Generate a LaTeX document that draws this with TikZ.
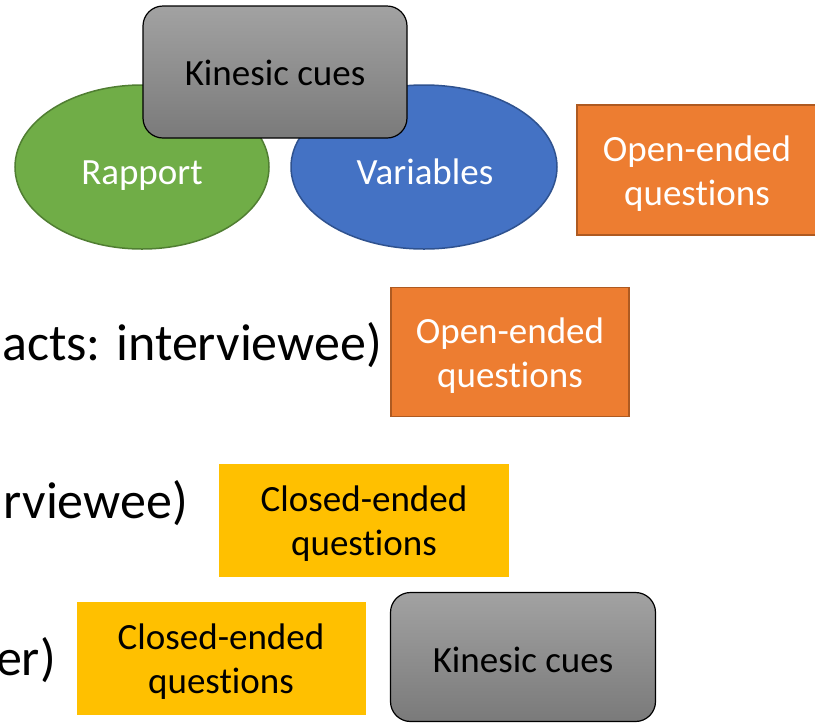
\documentclass[tikz,border=0pt]{standalone}
\usepackage{fontspec}
\setmainfont{Carlito}[Ligatures={NoCommon}]
\usetikzlibrary{shapes.geometric}
\definecolor{rgreen}{HTML}{70AD47}
\definecolor{rgreenb}{HTML}{507E32}
\definecolor{vblue}{HTML}{4472C4}
\definecolor{vblueb}{HTML}{2F528F}
\definecolor{oorange}{HTML}{ED7D31}
\definecolor{oorangeb}{HTML}{AE5A21}
\definecolor{cyellow}{HTML}{FFC000}
\definecolor{ktop}{HTML}{A2A2A2}
\definecolor{kbot}{HTML}{7A7A7A}
\tikzset{
  boxfont/.style={font=\fontsize{37}{44}\selectfont, align=center, inner sep=0pt},
  bigtext/.style={font=\fontsize{52}{60}\selectfont, anchor=east, inner sep=0pt},
  ell/.style={ellipse, draw, line width=1.5pt, inner sep=0pt},
  kinbox/.style={rectangle, draw=black, line width=1.2pt, rounded corners=20pt, top color=ktop, bottom color=kbot, inner sep=0pt},
  openbox/.style={rectangle, draw=oorangeb, fill=oorange, line width=1.5pt, inner sep=0pt},
  closedbox/.style={rectangle, fill=cyellow, inner sep=0pt},
  whitetext/.style={boxfont, text=white},
  blacktext/.style={boxfont, text=black}
}
\begin{document}
\begin{tikzpicture}[x=1pt,y=-1pt]
\useasboundingbox (0,0) rectangle (815,724);
\clip (0,0) rectangle (815,724);
\fill[white] (0,0) rectangle (815,724);
% top ellipses
\node[ell, fill=rgreen, draw=rgreenb, minimum width=254pt, minimum height=164pt] (rapport) at (142,167) {};
\node[whitetext] (rapportT) at (142,176) {Rapport};
\node[ell, fill=vblue, draw=vblueb, minimum width=266pt, minimum height=164pt] (variables) at (424,167) {};
\node[whitetext] (variablesT) at (425,172) {Variables};
\node[kinbox, minimum width=264pt, minimum height=132pt] (kin1) at (275,72) {};
\node[blacktext] (kin1T) at (275,73) {Kinesic cues};
\node[openbox, minimum width=240pt, minimum height=130pt] (open1) at (697,170) {};
\node[whitetext] (open1T) at (697,174) {Open-ended\\questions};
% row 2
\node[bigtext] (t1) at (382,345) {acts: interviewee)};
\node[openbox, minimum width=238pt, minimum height=129pt] (open2) at (510,352) {};
\node[whitetext] (open2T) at (510,356) {Open-ended\\questions};
% row 3
\node[bigtext] (t2) at (188,503) {rviewee)};
\node[closedbox, minimum width=290pt, minimum height=113pt] (closed1) at (364,520) {};
\node[blacktext] (closed1T) at (364,524) {Closed-ended\\questions};
% row 4
\node[bigtext] (t3) at (56,660) {er)};
\node[closedbox, minimum width=289pt, minimum height=113pt] (closed2) at (221,658) {};
\node[blacktext] (closed2T) at (221,662) {Closed-ended\\questions};
\node[kinbox, minimum width=265pt, minimum height=129pt] (kin2) at (523,657) {};
\node[blacktext] (kin2T) at (523,660) {Kinesic cues};
\end{tikzpicture}
\end{document}
